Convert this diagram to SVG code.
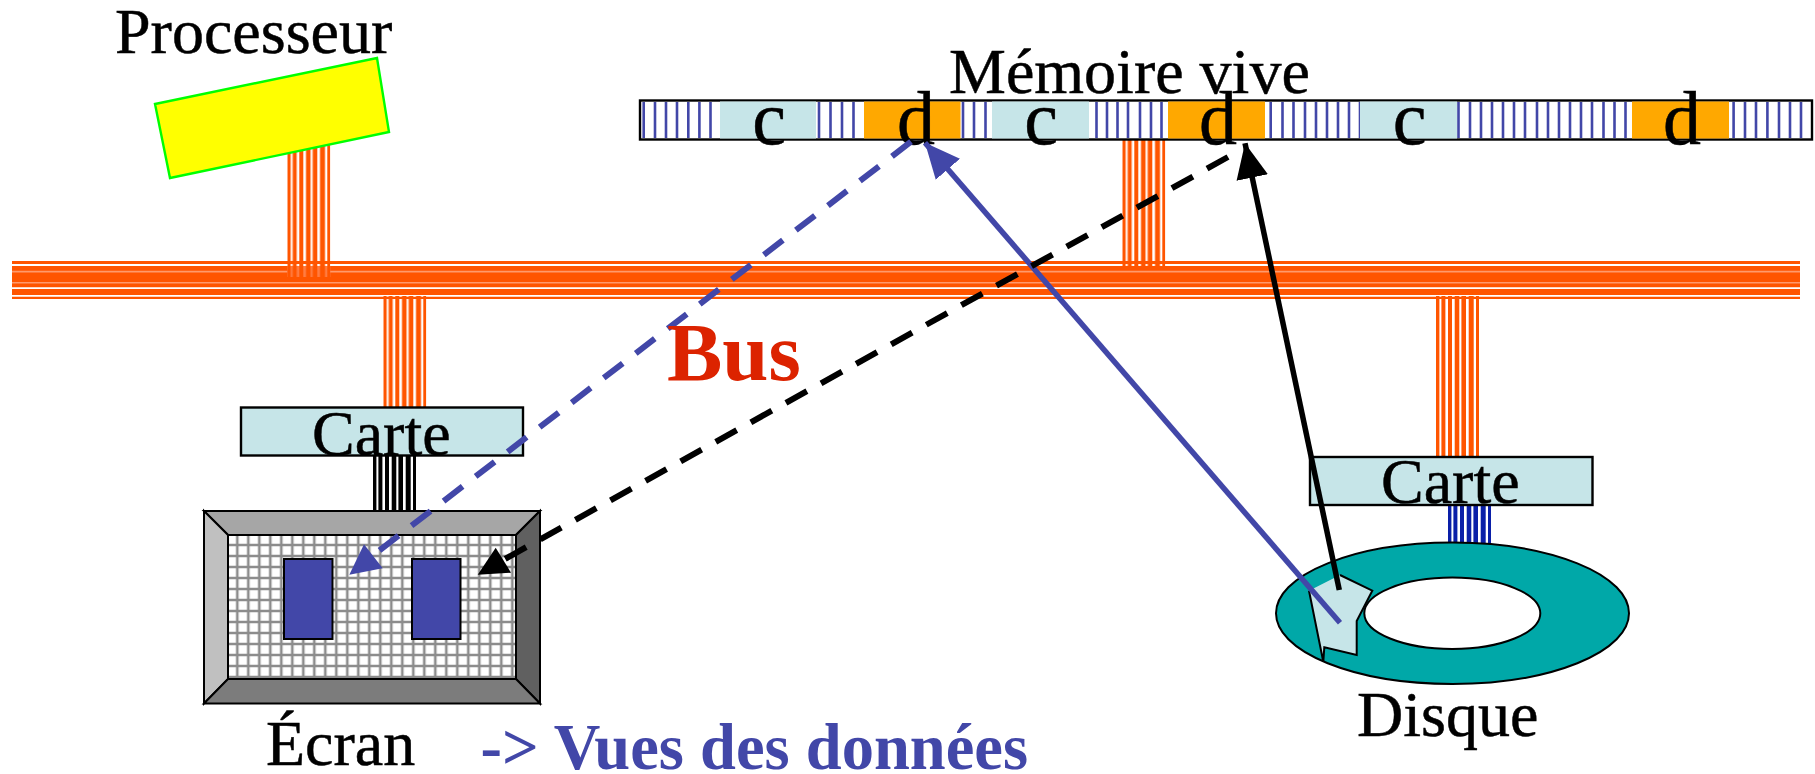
<svg xmlns="http://www.w3.org/2000/svg" width="1815" height="774" viewBox="0 0 1815 774">
<style>
text{font-family:"Liberation Serif","Times New Roman",serif;font-size:64px;fill:#000;stroke:#000;stroke-width:.5}
.cell{font-size:76px;text-anchor:middle}
.strong{font-weight:bold;stroke:none}
.card{fill:#c6e5e8;stroke:#000;stroke-width:2.4}
.code{fill:#c6e5e8}
.data{fill:#ffa800}
.view{fill:#4247a8;stroke:#000;stroke-width:2}
.bevel{stroke:#000;stroke-width:2;stroke-linejoin:miter}
.flow{fill:none;stroke-width:5.5}
.blue{stroke:#4247a8}
.black{stroke:#000}
.dash{stroke-width:6}
</style>
<defs>
<!-- seven-strand ribbon cable, one tile per colour -->
<pattern id="ribbon" width="44" height="10" patternUnits="userSpaceOnUse">
<path fill="#ff5500" d="M0 0h3.4v10H0zM5.4 0h4v10h-4zM12 0h4v10h-4zM18.7 0h4.6v10h-4.6zM25.4 0h4.6v10h-4.6zM32.7 0h5v10h-5zM40 0h3v10h-3z"/>
</pattern>
<pattern id="ribbonBlack" width="44" height="10" patternUnits="userSpaceOnUse">
<path fill="#000" d="M0 0h3.4v10H0zM5.4 0h4v10h-4zM12 0h4v10h-4zM18.7 0h4.6v10h-4.6zM25.4 0h4.6v10h-4.6zM32.7 0h5v10h-5zM40 0h3v10h-3z"/>
</pattern>
<pattern id="ribbonBlue" width="44" height="10" patternUnits="userSpaceOnUse">
<path fill="#0a1fa8" d="M0 0h3.4v10H0zM5.4 0h4v10h-4zM12 0h4v10h-4zM18.7 0h4.6v10h-4.6zM25.4 0h4.6v10h-4.6zM32.7 0h5v10h-5zM40 0h3v10h-3z"/>
</pattern>
<pattern id="mesh" x="230.3" y="538" width="11" height="11" patternUnits="userSpaceOnUse">
<rect width="11" height="11" fill="#fff"/>
<path d="M7 0V11M0 7H11" stroke="#8c8c8c" stroke-width="2.6"/>
</pattern>
<marker id="headBlue" markerUnits="userSpaceOnUse" markerWidth="40" markerHeight="34" refX="35" refY="17" orient="auto">
<path d="M0 1L35 17L0 33z" fill="#4247a8"/>
</marker>
<marker id="headBlack" markerUnits="userSpaceOnUse" markerWidth="40" markerHeight="34" refX="35" refY="17" orient="auto">
<path d="M0 1L35 17L0 33z" fill="#000"/>
</marker>
</defs>

<g id="bus">
<rect x="12" y="261" width="1788" height="38" fill="#ff5500"/>
<path d="M12 265H1800M12 288.2H1800M12 295.8H1800" stroke="#fff" stroke-width="1.8" fill="none"/>
<path d="M12 271.6H1800M12 282.7H1800" stroke="#ff9a6c" stroke-width="1.6" fill="none"/>
</g>

<g id="cables">
<rect x="287.3" y="266" width="43" height="11" fill="#ff7c42"/>
<rect x="0" y="140" width="43" height="137" fill="url(#ribbon)" transform="translate(287.3 0)"/>
<rect x="0" y="296" width="43" height="112" fill="url(#ribbon)" transform="translate(383.3 0)"/>
<rect x="0" y="140" width="43" height="126" fill="url(#ribbon)" transform="translate(1122.3 0)"/>
<rect x="0" y="296" width="43" height="161" fill="url(#ribbon)" transform="translate(1436 0)"/>
<rect x="0" y="456" width="43" height="55" fill="url(#ribbonBlack)" transform="translate(373 0)"/>
<rect x="0" y="505" width="43" height="40" fill="url(#ribbonBlue)" transform="translate(1448 0)"/>
</g>

<g id="processeur">
<polygon points="155,104 377,58 389,132 170,178" fill="#ff0" stroke="#0f0" stroke-width="2.4"/>
<text x="115" y="53">Processeur</text>
</g>

<g id="memoire">
<rect x="640" y="100.5" width="1172" height="39" fill="#fff" stroke="#000" stroke-width="2.4"/>
<path fill="none" stroke="#4247a8" stroke-width="2.6" d="M643.7 102V138M655 102V138M666 102V138M677 102V138M688.3 102V138M699.4 102V138M710.5 102V138M819 102V138M830.5 102V138M842 102V138M853.5 102V138M963 102V138M974 102V138M985.5 102V138M1096.5 102V138M1107 102V138M1117.5 102V138M1128 102V138M1140 102V138M1151 102V138M1161.5 102V138M1270.7 102V138M1282.5 102V138M1293.5 102V138M1305 102V138M1316 102V138M1327 102V138M1338 102V138M1349 102V138M1360 102V138M1458.5 102V138M1470 102V138M1481 102V138M1492 102V138M1503 102V138M1514 102V138M1525 102V138M1537 102V138M1548 102V138M1559 102V138M1570 102V138M1581 102V138M1592 102V138M1603.5 102V138M1614.5 102V138M1625.5 102V138M1733.6 102V138M1745 102V138M1756 102V138M1767.4 102V138M1779 102V138M1790 102V138M1801 102V138"/>
<rect class="code" x="720" y="101.5" width="96" height="37"/>
<rect class="data" x="864" y="101.5" width="96.5" height="37"/>
<rect class="code" x="992" y="101.5" width="97" height="37"/>
<rect class="data" x="1168" y="101.5" width="97" height="37"/>
<rect class="code" x="1360" y="101.5" width="97" height="37"/>
<rect class="data" x="1632" y="101.5" width="97" height="37"/>
<text x="949" y="92.5">Mémoire vive</text>
<text class="cell" x="769" y="144">c</text>
<text class="cell" x="916" y="144">d</text>
<text class="cell" x="1041" y="144">c</text>
<text class="cell" x="1218" y="144">d</text>
<text class="cell" x="1409.5" y="144">c</text>
<text class="cell" x="1682" y="144">d</text>
</g>

<g id="carte-ecran">
<rect class="card" x="241" y="407.5" width="282" height="48"/>
<text x="312" y="455">Carte</text>
</g>

<g id="ecran">
<rect x="228" y="535" width="288" height="144" fill="url(#mesh)" stroke="#000" stroke-width="2"/>
<polygon class="bevel" fill="#a6a6a6" points="204,511 540,511 516,535 228,535"/>
<polygon class="bevel" fill="#c0c0c0" points="204,511 228,535 228,679 204,703.5"/>
<polygon class="bevel" fill="#606060" points="540,511 540,703.5 516,679 516,535"/>
<polygon class="bevel" fill="#7c7c7c" points="204,703.5 228,679 516,679 540,703.5"/>
<rect class="view" x="284" y="559" width="48.5" height="80"/>
<rect class="view" x="412" y="559" width="48.5" height="80"/>
<text x="266" y="765">Écran</text>
</g>

<g id="carte-disque">
<rect class="card" x="1310" y="457" width="282.5" height="48"/>
<text x="1381" y="503">Carte</text>
</g>

<g id="disque">
<ellipse cx="1452.5" cy="613.3" rx="176.5" ry="70.7" fill="#00a8a8" stroke="#000" stroke-width="2"/>
<ellipse cx="1452.3" cy="613.3" rx="88" ry="35.7" fill="#fff" stroke="#000" stroke-width="2"/>
<polygon points="1340,575 1372.3,590.7 1356.7,621 1356.7,655 1324.3,647.3 1323.3,661.7 1309,590.7" fill="#c6e5e8"/>
<path d="M1340,575L1372.3,590.7L1356.7,621V655L1324.3,647.3L1323.3,661.7L1309,590.7" fill="none" stroke="#000" stroke-width="2"/>
<text x="1357" y="736">Disque</text>
</g>

<g id="connectors">
<line class="flow blue" x1="1340" y1="622.7" x2="925" y2="142.7" marker-end="url(#headBlue)"/>
<line class="flow black" x1="1339.3" y1="590" x2="1245" y2="143.3" marker-end="url(#headBlack)"/>
<line class="flow blue dash" stroke-dasharray="24 16.4" x1="911" y1="141.7" x2="379" y2="550.7"/>
<path d="M349.3 574.7L364 544.3L382.7 568.3z" fill="#4247a8"/>
<line class="flow black dash" stroke-dasharray="24 16.15" x1="1228" y1="157" x2="505" y2="559"/>
<path d="M477.7 574.7L495.7 547.7L511 572.7z" fill="#000"/>
</g>

<g id="legendes">
<text class="strong" x="667" y="380" style="font-size:83px;fill:#dc2300">Bus</text>
<text class="strong" x="480.5" y="769" style="font-size:64.5px;fill:#4247a8">-&gt; Vues des données</text>
</g>
</svg>
